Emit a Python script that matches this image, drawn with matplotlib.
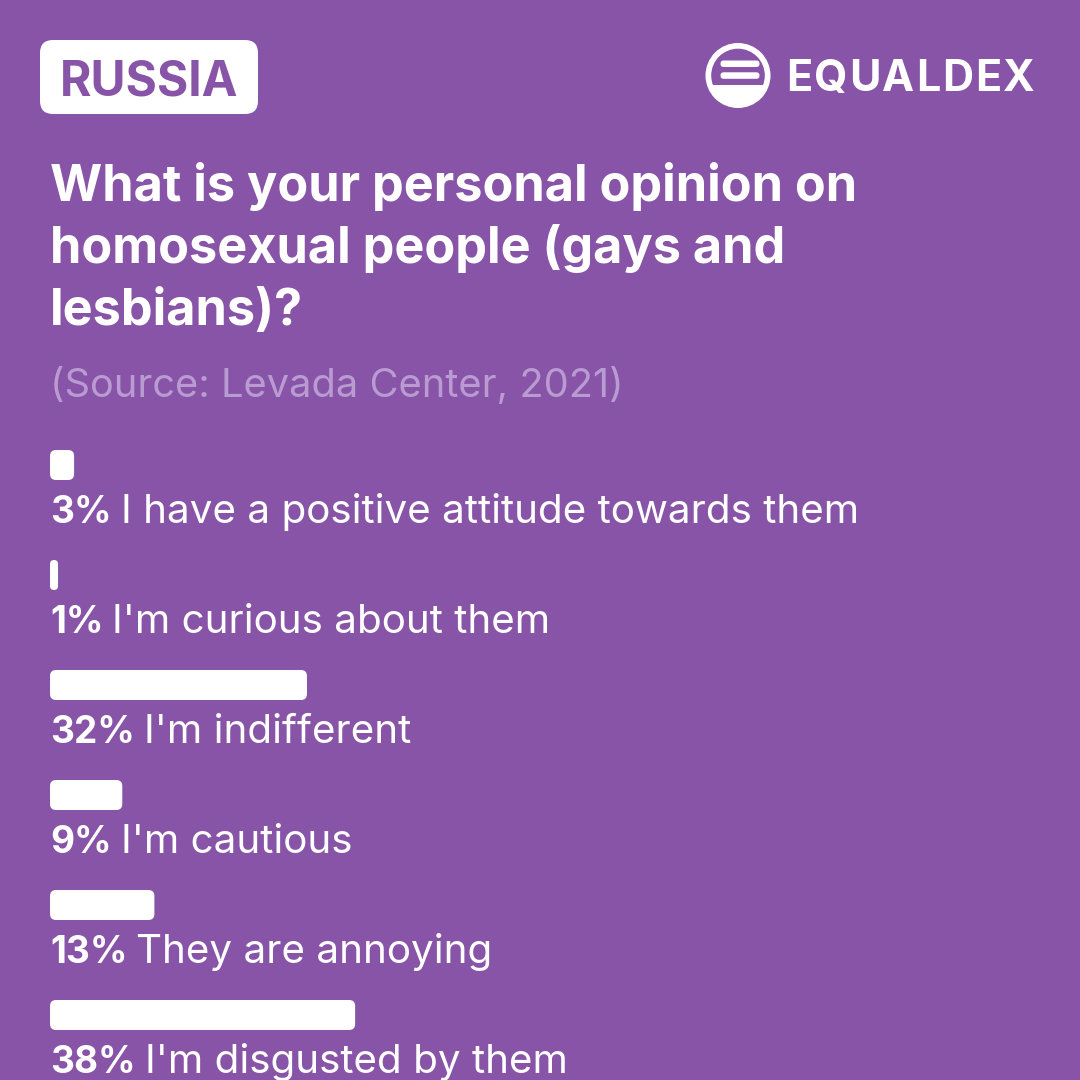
import matplotlib.pyplot as plt
from matplotlib.patches import FancyBboxPatch, Circle, Rectangle

# survey data (Levada Center, 2021)
country = 'RUSSIA'
brand = 'EQUALDEX'
title_lines = ['What is your personal opinion on',
               'homosexual people (gays and',
               'lesbians)?']
source = '(Source: Levada Center, 2021)'
answers = ['I have a positive attitude towards them',
           "I'm curious about them",
           "I'm indifferent",
           "I'm cautious",
           'They are annoying',
           "I'm disgusted by them"]
percents = [3, 1, 32, 9, 13, 38]

bg = '#8854A8'
src_col = '#B99BD2'
plt.rcParams['font.family'] = ['Inter', 'DejaVu Sans']

W = 1080
fig = plt.figure(figsize=(10.8, 10.8), dpi=100, facecolor=bg)
ax = fig.add_axes([0, 0, 1, 1])
ax.set_xlim(0, W)
ax.set_ylim(W, 0)
ax.axis('off')
ax.set_facecolor(bg)

px = 0.72  # pixel -> point at dpi 100
left = 50
fig.canvas.draw()
r = fig.canvas.get_renderer()
inv = ax.transData.inverted()

def right_edge(t):
    bb = t.get_window_extent(r)
    return inv.transform((bb.x1, 0))[0]

# country badge
ax.add_patch(FancyBboxPatch((40, 40), 218, 74, boxstyle='round,pad=0,rounding_size=13',
                            fc='white', ec='none'))
ax.text(149, 95, country, ha='center', va='baseline', color=bg,
        fontsize=48 * px, fontweight='bold')

# logo
cx, cy = 738, 75.5
ax.add_patch(Circle((cx, cy), 32.5, fc='white', ec='none'))
inner = Circle((cx, cy), 26.8, fc=bg, ec='none')
ax.add_patch(inner)
clip = Rectangle((700, 40), 80, 44.7, transform=ax.transData)
inner.set_clip_path(clip)
for yy in (60.5, 72.3):
    ax.add_patch(FancyBboxPatch((720.5, yy), 39, 6.5, boxstyle='round,pad=0,rounding_size=3.2',
                                fc='white', ec='none'))

# brand name, slightly tracked
bx = 786
for ch in brand:
    t = ax.text(bx, 91, ch, ha='left', va='baseline', color='white',
                fontsize=43 * px, fontweight='bold')
    bx = right_edge(t) + 1.7

# title + source
for i, line in enumerate(title_lines):
    ax.text(left, 201 + i * 62, line, ha='left', va='baseline', color='white',
            fontsize=50.4 * px, fontweight='bold')
ax.text(left, 397, source, ha='left', va='baseline', color=src_col, fontsize=39.8 * px)

# bars
full = 803  # pixels for 100 %
bar_h = 30
for i, (lab, p) in enumerate(zip(answers, percents)):
    top = 450 + i * 110
    w = p * full / 100
    ax.add_patch(FancyBboxPatch((left, top), w, bar_h,
                                boxstyle='round,pad=0,rounding_size=%g' % min(6, w / 2),
                                fc='white', ec='none'))
    base = top + 73
    t = ax.text(left, base, '%d%%' % p, ha='left', va='baseline', color='white',
                fontsize=37 * px, fontweight='bold')
    ax.text(right_edge(t) + 9, base, lab, ha='left', va='baseline', color='white',
            fontsize=40.4 * px)

fig.savefig('out.png', dpi=100, facecolor=bg)
